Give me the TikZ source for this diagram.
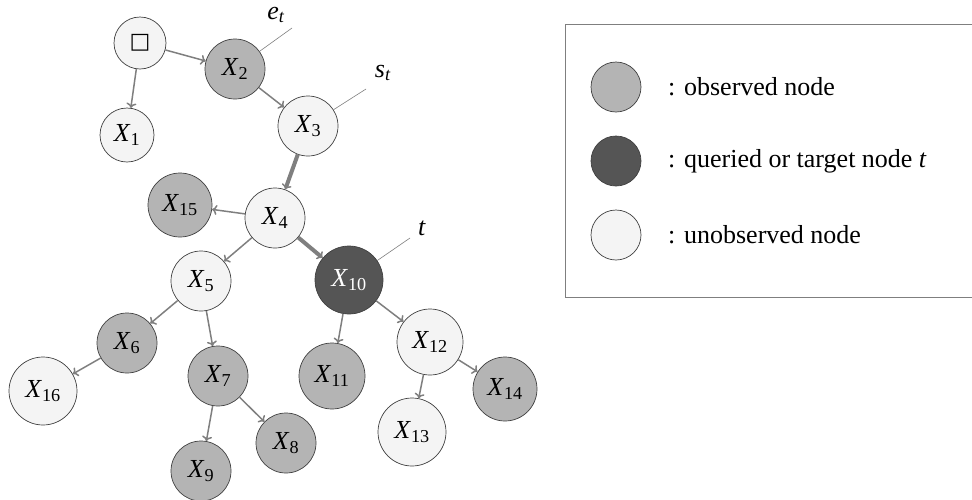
\documentclass[tikz,border=0pt]{standalone}
\usepackage{fontspec}
\setmainfont{Liberation Serif}
\newfontfamily\symfont{DejaVu Sans}
\usetikzlibrary{arrows.meta}
\definecolor{obsc}{HTML}{B4B4B4}
\definecolor{tgtc}{HTML}{555555}
\definecolor{unc}{HTML}{F4F4F4}
\definecolor{edgec}{HTML}{7F7F7F}
\newcommand\vx[1]{\textit{X}\textsubscript{#1}}
\tikzset{
  nd/.style={circle, draw=black!75, line width=0.7pt, inner sep=0pt, minimum size=60pt,
    font=\fontsize{26}{31}\selectfont},
  obs/.style={nd, fill=obsc},
  unobs/.style={nd, fill=unc},
  tgt/.style={nd, fill=tgtc, text=white},
  edge/.style={draw=edgec, line width=1.5pt, -{To[length=5pt,width=10pt]}},
  shaft/.style={draw=edgec, line width=4pt, shorten >=2pt},
  lblline/.style={draw=edgec, line width=0.6pt},
  lbl/.style={font=\fontsize{26}{31}\selectfont, inner sep=0pt},
  legtext/.style={font=\fontsize{26}{31}\selectfont, anchor=west, inner sep=0pt}
}
\begin{document}
\begin{tikzpicture}[x=1pt,y=-1pt]
\useasboundingbox (0,0) rectangle (972,499);
% nodes
\node[unobs, minimum size=52pt] (r) at (140,43) {\symfont\fontsize{22}{26}\selectfont □};
\node[obs] (x2) at (235,69) {\vx{2}};
\node[unobs, minimum size=54pt] (x1) at (127,135) {\vx{1}};
\node[unobs] (x3) at (308,126) {\vx{3}};
\node[unobs] (x4) at (275,218) {\vx{4}};
\node[obs, minimum size=64pt] (x15) at (180,205) {\vx{15}};
\node[unobs] (x5) at (201,281) {\vx{5}};
\node[tgt, minimum size=68pt] (x10) at (349,280) {\vx{10}};
\node[obs] (x6) at (127,343) {\vx{6}};
\node[unobs, minimum size=68pt] (x16) at (43,391) {\vx{16}};
\node[obs] (x7) at (218,376) {\vx{7}};
\node[obs] (x8) at (286,443) {\vx{8}};
\node[obs] (x9) at (201,471) {\vx{9}};
\node[obs, minimum size=66pt] (x11) at (332,376) {\vx{11}};
\node[unobs, minimum size=66pt] (x12) at (430,342) {\vx{12}};
\node[unobs, minimum size=68pt] (x13) at (412,432) {\vx{13}};
\node[obs, minimum size=64pt] (x14) at (505,389) {\vx{14}};
% edges
\draw[edge] (r) -- (x2);
\draw[edge] (r) -- (x1);
\draw[edge] (x2) -- (x3);
\draw[shaft] (x3) -- (x4);
\draw[edge] (x3) -- (x4);
\draw[edge] (x4) -- (x15);
\draw[edge] (x4) -- (x5);
\draw[shaft] (x4) -- (x10);
\draw[edge] (x4) -- (x10);
\draw[edge] (x5) -- (x6);
\draw[edge] (x5) -- (x7);
\draw[edge] (x6) -- (x16);
\draw[edge] (x7) -- (x9);
\draw[edge] (x7) -- (x8);
\draw[edge] (x10) -- (x11);
\draw[edge] (x10) -- (x12);
\draw[edge] (x12) -- (x13);
\draw[edge] (x12) -- (x14);
% label lines
\coordinate (et) at (292,28);
\coordinate (st) at (366,89);
\coordinate (tt) at (410,238);
\draw[lblline] (x2) -- (et);
\draw[lblline] (x3) -- (st);
\draw[lblline] (x10) -- (tt);
\node[lbl] (etl) at (276,15) {\textit{e}\textsubscript{\textit{t}}};
\node[lbl] (stl) at (383,73) {\textit{s}\textsubscript{\textit{t}}};
\node[lbl] (ttl) at (422,228) {\textit{t}};
% legend
\draw[draw=edgec, line width=0.8pt] (980,24) -- (565,24) -- (565,297) -- (980,297);
\node[obs, minimum size=50pt] (l1) at (616,87) {};
\node[tgt, minimum size=50pt] (l2) at (616,161) {};
\node[unobs, minimum size=50pt] (l3) at (616,235) {};
\node[legtext] (t1) at (668,87) {: observed node};
\node[legtext] (t2) at (668,161) {: queried or target node \textit{t}};
\node[legtext] (t3) at (668,235) {: unobserved node};
\end{tikzpicture}
\end{document}
